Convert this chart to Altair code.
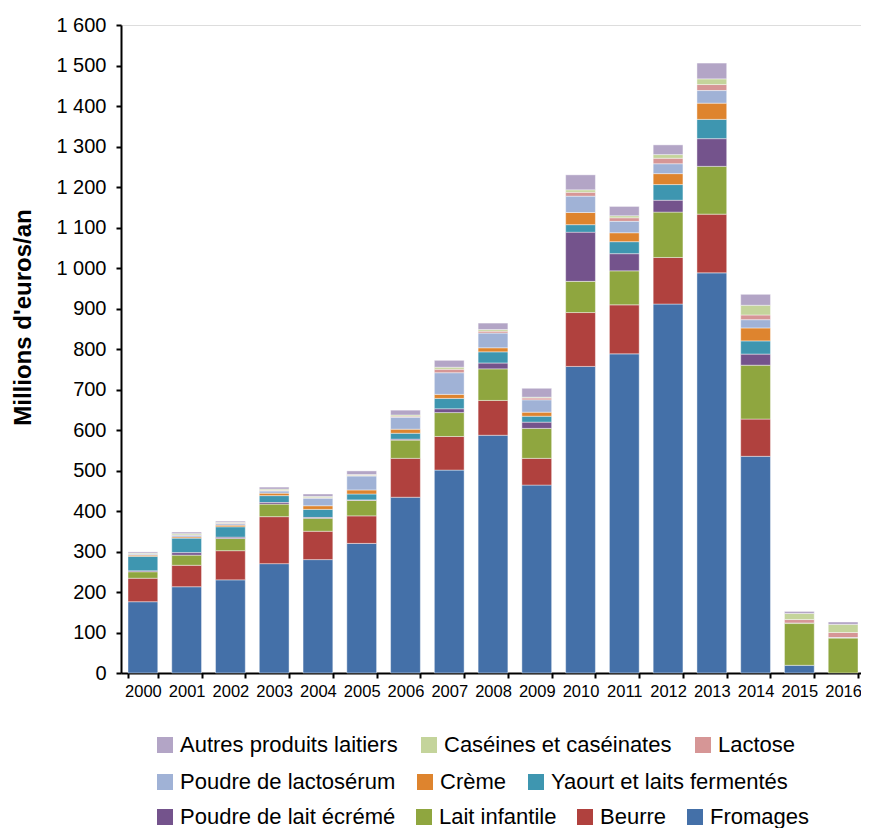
import altair as alt
import pandas as pd

years = [str(y) for y in range(2000, 2017)]

fromages = [176, 213, 230, 270, 280, 320, 434, 501, 587, 464, 757, 788, 911, 988, 535, 19, 0]
beurre = [58, 53, 72, 116, 70, 68, 96, 83, 86, 66, 133, 121, 115, 145, 92, 0, 0]
lait_infantile = [16, 25, 30, 31, 32, 38, 45, 59, 78, 74, 77, 84, 112, 118, 133, 103, 86]
poudre_lait_ecreme = [2, 6, 3, 4, 2, 1, 2, 9, 14, 15, 121, 42, 29, 68, 27, 0, 0]
yaourt = [36, 36, 26, 17, 20, 15, 15, 26, 28, 15, 19, 30, 39, 48, 33, 0, 0]
creme = [3, 3, 4, 6, 9, 10, 10, 10, 10, 10, 30, 22, 27, 40, 32, 0, 0]
poudre_lactoserum = [2, 3, 3, 5, 18, 34, 29, 53, 36, 30, 40, 28, 24, 31, 20, 1, 1]
lactose = [1, 2, 2, 2, 2, 2, 3, 9, 5, 5, 10, 9, 14, 15, 12, 9, 13]
caseines = [2, 3, 2, 3, 3, 2, 3, 5, 4, 2, 6, 5, 9, 14, 24, 15, 20]
autres = [3, 4, 3, 5, 6, 9, 12, 17, 16, 22, 37, 23, 24, 39, 27, 5, 6]

categories = [
    "Fromages", "Beurre", "Lait infantile", "Poudre de lait écrémé",
    "Yaourt et laits fermentés", "Crème", "Poudre de lactosérum",
    "Lactose", "Caséines et caséinates", "Autres produits laitiers",
]
series = [fromages, beurre, lait_infantile, poudre_lait_ecreme, yaourt,
          creme, poudre_lactoserum, lactose, caseines, autres]
colors = {
    "Fromages": "#4470a8",
    "Beurre": "#b0413e",
    "Lait infantile": "#8fa63f",
    "Poudre de lait écrémé": "#74538c",
    "Yaourt et laits fermentés": "#3e96b0",
    "Crème": "#de842e",
    "Poudre de lactosérum": "#a0b2d6",
    "Lactose": "#d69696",
    "Caséines et caséinates": "#c4d49b",
    "Autres produits laitiers": "#b3a5c6",
}

legend_rows = [
    ["Autres produits laitiers", "Caséines et caséinates", "Lactose"],
    ["Poudre de lactosérum", "Crème", "Yaourt et laits fermentés"],
    ["Poudre de lait écrémé", "Lait infantile", "Beurre", "Fromages"],
]
y_ticks = list(range(0, 1700, 100))

rows = []
for ci, (cat, vals) in enumerate(zip(categories, series)):
    for yr, v in zip(years, vals):
        rows.append({"annee": yr, "produit": cat, "valeur": v, "ordre": ci})
df = pd.DataFrame(rows)

FONT = "Liberation Sans"

x_enc = alt.X(
    "annee:N",
    title=None,
    scale=alt.Scale(range=[0, 744], paddingInner=0.32, paddingOuter=0.16),
    axis=alt.Axis(
        labelAngle=0, labelFont=FONT, labelFontSize=16.5, labelColor="#000",
        labelPadding=5, tickBand="extent", tickSize=5, tickColor="#000",
        tickWidth=2, domainColor="#000", domainWidth=2, grid=False,
    ),
)
y_enc = alt.Y(
    "v1:Q",
    title="Millions d'euros/an",
    scale=alt.Scale(domain=[0, 1600], nice=False),
    axis=alt.Axis(
        values=y_ticks,
        labelExpr="replace(format(datum.value, ','), ',', ' ')",
        labelFont=FONT, labelFontSize=20, labelColor="#000", labelPadding=10,
        tickSize=5, tickColor="#000", tickWidth=2, domainColor="#000",
        domainWidth=2, grid=False,
        titleFont=FONT, titleFontSize=24, titleFontWeight="bold",
        titleColor="#000", titleX=-86, titleY=292,
    ),
)

base = alt.Chart(df).transform_stack(
    stack="valeur",
    groupby=["annee"],
    as_=["v0", "v1"],
    sort=[alt.SortField("ordre", order="ascending")],
)

legend_pos = [(33, 709, 20), (33, 746, 18), (33, 781, 17)]

layers = []
for row, (lx, ly, cp) in zip(legend_rows, legend_pos):
    layer = (
        base.transform_filter(alt.FieldOneOfPredicate(field="produit", oneOf=row))
        .transform_filter(alt.datum.valeur > 0)
        .mark_bar(stroke="white", strokeWidth=0.7, strokeOpacity=0.6)
        .encode(
            x=x_enc,
            y=y_enc,
            y2="v0:Q",
            color=alt.Color(
                "produit:N",
                scale=alt.Scale(domain=row, range=[colors[c] for c in row]),
                legend=alt.Legend(
                    title=None, orient="none", legendX=lx, legendY=ly,
                    direction="horizontal", columns=len(row),
                    labelFont=FONT, labelFontSize=22, labelColor="#000",
                    labelLimit=400, symbolType="square", symbolSize=256,
                    symbolStrokeWidth=0, symbolOpacity=1, labelOffset=4,
                    columnPadding=cp, padding=0,
                ),
            ),
            tooltip=["annee:N", "produit:N", "valeur:Q"],
        )
    )
    layers.append(layer)

chart = (
    alt.layer(*layers)
    .resolve_scale(color="independent")
    .resolve_legend(color="independent")
    .properties(
        width=740,
        height=648,
        padding={"left": 113, "top": 17, "right": 0, "bottom": 155},
        autosize=alt.AutoSizeParams(type="none"),
    )
    .configure_view(stroke=None)
    .configure(background="white")
)

chart.save("out.html", embed_options={"renderer": "svg", "actions": False})
